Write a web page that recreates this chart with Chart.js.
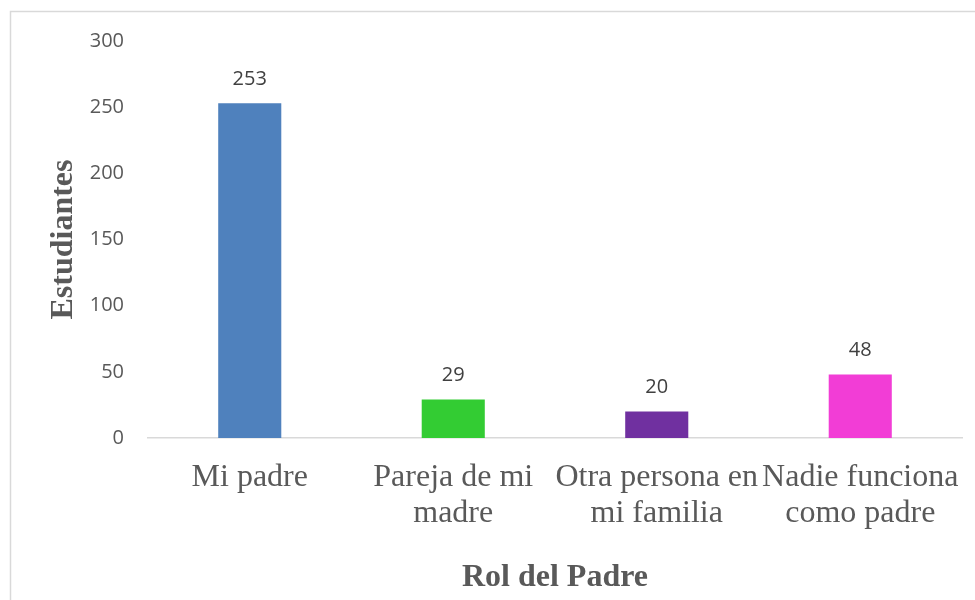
<!DOCTYPE html>
<html>
<head>
<meta charset="utf-8">
<script src="https://cdn.jsdelivr.net/npm/chart.js@4"></script>
<style>
  html, body { margin: 0; padding: 0; background: #fff; }
  canvas { display: block; }
</style>
</head>
<body>
<canvas id="chart" width="975" height="600"></canvas>
<script>
// datos del grafico
const categories = [
  'Mi padre',
  ['Pareja de mi', 'madre'],
  ['Otra persona en', 'mi familia'],
  ['Nadie funciona', 'como padre'],
]
const students = [253, 29, 20, 48]
const barColors = ['#4F81BD', '#33CC33', '#7030A0', '#F23DD6']
const yTicks = [0, 50, 100, 150, 200, 250, 300]

const xTitle = 'Rol del Padre'
const yTitle = 'Estudiantes'

// marco gris alrededor del grafico
const frame = {
  id: 'frame',
  beforeDraw(chart) {
    const ctx = chart.ctx
    ctx.save()
    ctx.fillStyle = '#fff'
    ctx.fillRect(0, 0, chart.width, chart.height)
    ctx.strokeStyle = '#d9d9d9'
    ctx.lineWidth = 1.5
    ctx.strokeRect(10.5, 11.5, chart.width, chart.height)
    ctx.restore()
  },
}

// etiquetas de valores encima de las barras
const valueLabels = {
  id: 'valueLabels',
  afterDatasetsDraw(chart) {
    const ctx = chart.ctx
    const meta = chart.getDatasetMeta(0)
    ctx.save()
    ctx.font = '20px "Open Sans"'
    ctx.fillStyle = '#404040'
    ctx.textAlign = 'center'
    ctx.textBaseline = 'middle'
    meta.data.forEach((bar, i) => {
      ctx.fillText(String(students[i]), bar.x, bar.y - 24)
    })
    ctx.restore()
  },
}

new Chart(document.getElementById('chart').getContext('2d'), {
  type: 'bar',
  data: {
    labels: categories,
    datasets: [{
      data: students,
      backgroundColor: barColors,
      borderWidth: 0,
      barPercentage: 0.31,
      categoryPercentage: 1,
    }],
  },
  options: {
    responsive: false,
    animation: false,
    layout: { padding: { top: 41, right: 13, left: 0, bottom: 0 } },
    plugins: {
      legend: { display: false },
      tooltip: { enabled: false },
    },
    scales: {
      x: {
        grid: { display: false, drawTicks: false },
        border: { display: true, color: '#d9d9d9', width: 1.5 },
        ticks: {
          color: '#595959',
          padding: 22,
          maxRotation: 0,
          autoSkip: false,
          font: { family: '"Liberation Serif"', size: 32, lineHeight: 1.125 },
        },
        title: {
          display: true,
          text: xTitle,
          color: '#595959',
          padding: { top: 0, bottom: 3 },
          font: { family: '"Liberation Serif"', size: 32, weight: 'bold', lineHeight: 1.2 },
        },
        afterFit(scale) {
          scale.height = 162
          scale.paddingLeft = 0
          scale.paddingRight = 0
        },
      },
      y: {
        min: 0,
        max: 300,
        afterBuildTicks(scale) { scale.ticks = yTicks.map((v) => ({ value: v })) },
        grid: { display: false, drawTicks: false },
        border: { display: false },
        ticks: {
          color: '#595959',
          padding: 24,
          font: { family: '"Open Sans"', size: 20 },
        },
        title: {
          display: true,
          text: yTitle,
          color: '#595959',
          padding: { top: 45, bottom: 0 },
          font: { family: '"Liberation Serif"', size: 32, weight: 'bold', lineHeight: 1.2 },
        },
        afterFit(scale) { scale.width = 148 },
      },
    },
  },
  plugins: [frame, valueLabels],
})
</script>
</body>
</html>
